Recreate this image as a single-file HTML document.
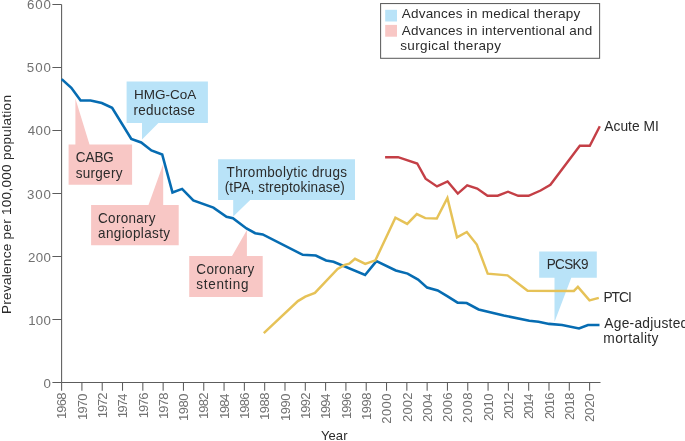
<!DOCTYPE html>
<html><head><meta charset="utf-8"><style>
html,body{margin:0;padding:0;background:#fff;}
body{width:685px;height:441px;overflow:hidden;}
svg{display:block;font-family:"Liberation Sans", sans-serif;will-change:transform;}
</style></head><body>
<svg width="685" height="441" viewBox="0 0 685 441">
<rect width="685" height="441" fill="#fff"/>
<polygon fill="#f8c7c5" points="75.4,98.6 89.5,144.4 132.1,144.4 132.1,184.8 68.6,184.8 68.6,144.4 75.4,144.4"/>
<polygon fill="#f8c7c5" points="163.2,164 163.2,204.9 178.7,204.9 178.7,245.2 91.1,245.2 91.1,204.9 148.5,204.9"/>
<polygon fill="#f8c7c5" points="246.9,230 246.9,256.1 262.7,256.1 262.7,297.1 189.2,297.1 189.2,256.1 232,256.1"/>
<polygon fill="#b9e3f8" points="126.6,81.6 207.9,81.6 207.9,123.0 158.4,123.0 142.0,139.6 142.0,123.0 126.6,123.0"/>
<polygon fill="#b9e3f8" points="218.1,159.2 355,159.2 355,200.1 250.2,200.1 233.2,216.4 233.2,200.1 218.1,200.1"/>
<polygon fill="#b9e3f8" points="539.2,251.6 596.8,251.6 596.8,277.8 571.3,277.8 554.5,322 554.5,277.8 539.2,277.8"/>
<path d="M61.6,4.5 V382.45 M61.6,382.45 H600.5" stroke="#5c5c5c" stroke-width="1.05" fill="none"/>
<path d="M52.4,382.45 H61.6 M52.4,319.46 H61.6 M52.4,256.47 H61.6 M52.4,193.48 H61.6 M52.4,130.49 H61.6 M52.4,67.50 H61.6 M52.4,4.51 H61.6 M61.60,382.45 V390.7 M81.91,382.45 V390.7 M102.22,382.45 V390.7 M122.52,382.45 V390.7 M142.83,382.45 V390.7 M163.14,382.45 V390.7 M183.45,382.45 V390.7 M203.76,382.45 V390.7 M224.06,382.45 V390.7 M244.37,382.45 V390.7 M264.68,382.45 V390.7 M284.99,382.45 V390.7 M305.30,382.45 V390.7 M325.60,382.45 V390.7 M345.91,382.45 V390.7 M366.22,382.45 V390.7 M386.53,382.45 V390.7 M406.84,382.45 V390.7 M427.14,382.45 V390.7 M447.45,382.45 V390.7 M467.76,382.45 V390.7 M488.07,382.45 V390.7 M508.38,382.45 V390.7 M528.68,382.45 V390.7 M548.99,382.45 V390.7 M569.30,382.45 V390.7 M589.61,382.45 V390.7" stroke="#5c5c5c" stroke-width="1.05" fill="none"/>
<polyline fill="none" stroke="#066cb2" stroke-width="2.6" stroke-linejoin="miter" stroke-miterlimit="4" points="61.7,79.1 71.3,87.8 80.6,100.5 90.6,100.5 101.8,103.0 112.1,107.7 131.3,138.9 141.2,142.4 151.4,150.4 162.2,154.5 172.5,192.5 182.1,188.9 193.3,200.5 213.4,207.6 226.5,216.8 232.9,218.3 246.5,228.5 255.2,233.2 262.7,234.4 302.8,254.8 315.8,255.5 326.1,260.5 333.5,261.8 365.1,275.0 376.4,261.2 395.8,270.5 407.6,273.6 418.1,279.6 427.1,287.6 437.7,290.5 447.6,296.3 457.6,302.6 466.7,303.0 478.6,309.5 503.7,315.4 529.3,320.8 538.5,321.7 549.1,323.9 562.1,325.0 579.0,328.4 588.0,325.0 599.5,325.0"/>
<polyline fill="none" stroke="#c43f46" stroke-width="2.4" stroke-linejoin="miter" stroke-miterlimit="4" points="385.1,157.2 398.1,157.2 417.2,163.5 425.6,178.7 437.0,186.4 447.6,181.4 457.8,193.6 467.2,185.4 477.2,188.5 487.5,195.7 497.7,195.7 508.0,191.7 518.2,195.8 528.6,195.8 540.6,190.5 550.4,184.8 579.8,145.8 589.8,145.8 599.8,126.3"/>
<polyline fill="none" stroke="#e6c257" stroke-width="2.45" stroke-linejoin="miter" stroke-miterlimit="4" points="263.8,333.1 297.9,301.1 305.3,296.6 314.9,292.9 337.6,269.0 344.7,264.9 349.3,263.6 355.0,258.8 365.2,263.9 375.4,260.3 395.4,217.7 407.2,223.9 416.8,214.1 425.3,218.1 436.8,218.5 447.4,198.0 457.0,237.3 466.8,232.0 476.8,244.6 487.7,273.7 507.5,275.4 527.6,290.7 573.9,290.9 577.9,286.9 589.5,300.4 598.8,297.9"/>
<text x="50.90" y="387.91" text-anchor="end" fill="#717171" font-size="13.3">0</text>
<text x="50.90" y="324.80" text-anchor="end" fill="#717171" font-size="13.3" textLength="22.69" lengthAdjust="spacing">100</text>
<text x="50.90" y="261.69" text-anchor="end" fill="#717171" font-size="13.3" textLength="22.99" lengthAdjust="spacing">200</text>
<text x="50.90" y="198.58" text-anchor="end" fill="#717171" font-size="13.3" textLength="23.99" lengthAdjust="spacing">300</text>
<text x="50.90" y="135.47" text-anchor="end" fill="#717171" font-size="13.3" textLength="23.19" lengthAdjust="spacing">400</text>
<text x="50.90" y="72.36" text-anchor="end" fill="#717171" font-size="13.3" textLength="24.09" lengthAdjust="spacing">500</text>
<text x="50.90" y="9.25" text-anchor="end" fill="#717171" font-size="13.3" textLength="23.89" lengthAdjust="spacing">600</text>
<text transform="translate(66.30,392.50) rotate(-90)" text-anchor="end" fill="#717171" font-size="13.0" textLength="26.62" lengthAdjust="spacing">1968</text>
<text transform="translate(86.61,393.50) rotate(-90)" text-anchor="end" fill="#717171" font-size="13.0" textLength="26.52" lengthAdjust="spacing">1970</text>
<text transform="translate(106.92,392.50) rotate(-90)" text-anchor="end" fill="#717171" font-size="13.0" textLength="25.72" lengthAdjust="spacing">1972</text>
<text transform="translate(127.22,393.50) rotate(-90)" text-anchor="end" fill="#717171" font-size="13.0" textLength="24.72" lengthAdjust="spacing">1974</text>
<text transform="translate(147.53,392.50) rotate(-90)" text-anchor="end" fill="#717171" font-size="13.0" textLength="25.72" lengthAdjust="spacing">1976</text>
<text transform="translate(167.84,392.50) rotate(-90)" text-anchor="end" fill="#717171" font-size="13.0" textLength="26.62" lengthAdjust="spacing">1978</text>
<text transform="translate(188.15,393.50) rotate(-90)" text-anchor="end" fill="#717171" font-size="13.0" textLength="27.42" lengthAdjust="spacing">1980</text>
<text transform="translate(208.46,392.50) rotate(-90)" text-anchor="end" fill="#717171" font-size="13.0" textLength="26.62" lengthAdjust="spacing">1982</text>
<text transform="translate(228.76,393.50) rotate(-90)" text-anchor="end" fill="#717171" font-size="13.0" textLength="25.62" lengthAdjust="spacing">1984</text>
<text transform="translate(249.07,392.50) rotate(-90)" text-anchor="end" fill="#717171" font-size="13.0" textLength="26.62" lengthAdjust="spacing">1986</text>
<text transform="translate(269.38,392.50) rotate(-90)" text-anchor="end" fill="#717171" font-size="13.0" textLength="27.52" lengthAdjust="spacing">1988</text>
<text transform="translate(289.69,393.50) rotate(-90)" text-anchor="end" fill="#717171" font-size="13.0" textLength="27.42" lengthAdjust="spacing">1990</text>
<text transform="translate(310.00,392.50) rotate(-90)" text-anchor="end" fill="#717171" font-size="13.0" textLength="26.62" lengthAdjust="spacing">1992</text>
<text transform="translate(330.30,393.50) rotate(-90)" text-anchor="end" fill="#717171" font-size="13.0" textLength="25.62" lengthAdjust="spacing">1994</text>
<text transform="translate(350.61,392.50) rotate(-90)" text-anchor="end" fill="#717171" font-size="13.0" textLength="26.62" lengthAdjust="spacing">1996</text>
<text transform="translate(370.92,392.50) rotate(-90)" text-anchor="end" fill="#717171" font-size="13.0" textLength="27.52" lengthAdjust="spacing">1998</text>
<text transform="translate(391.23,393.50) rotate(-90)" text-anchor="end" fill="#717171" font-size="13.0" textLength="30.32" lengthAdjust="spacing">2000</text>
<text transform="translate(411.54,392.50) rotate(-90)" text-anchor="end" fill="#717171" font-size="13.0" textLength="29.52" lengthAdjust="spacing">2002</text>
<text transform="translate(431.84,393.50) rotate(-90)" text-anchor="end" fill="#717171" font-size="13.0" textLength="28.52" lengthAdjust="spacing">2004</text>
<text transform="translate(452.15,392.50) rotate(-90)" text-anchor="end" fill="#717171" font-size="13.0" textLength="29.52" lengthAdjust="spacing">2006</text>
<text transform="translate(472.46,392.50) rotate(-90)" text-anchor="end" fill="#717171" font-size="13.0" textLength="30.42" lengthAdjust="spacing">2008</text>
<text transform="translate(492.77,393.50) rotate(-90)" text-anchor="end" fill="#717171" font-size="13.0" textLength="27.42" lengthAdjust="spacing">2010</text>
<text transform="translate(513.08,392.50) rotate(-90)" text-anchor="end" fill="#717171" font-size="13.0" textLength="26.62" lengthAdjust="spacing">2012</text>
<text transform="translate(533.38,393.50) rotate(-90)" text-anchor="end" fill="#717171" font-size="13.0" textLength="25.62" lengthAdjust="spacing">2014</text>
<text transform="translate(553.69,392.50) rotate(-90)" text-anchor="end" fill="#717171" font-size="13.0" textLength="26.62" lengthAdjust="spacing">2016</text>
<text transform="translate(574.00,392.50) rotate(-90)" text-anchor="end" fill="#717171" font-size="13.0" textLength="27.52" lengthAdjust="spacing">2018</text>
<text transform="translate(594.31,393.50) rotate(-90)" text-anchor="end" fill="#717171" font-size="13.0" textLength="28.52" lengthAdjust="spacing">2020</text>
<text transform="translate(134.0,99.30) scale(1,1.0)" font-size="13.5" fill="#2b2b2b" textLength="62.17" lengthAdjust="spacing">HMG-CoA</text>
<text transform="translate(133.4,114.60) scale(1,1.03)" font-size="13.5" fill="#2b2b2b" textLength="61.7" lengthAdjust="spacing">reductase</text>
<text transform="translate(75.8,162.00) scale(1,1.06)" font-size="13.5" fill="#2b2b2b" textLength="38.07" lengthAdjust="spacing">CABG</text>
<text transform="translate(75.8,177.50) scale(1,1.06)" font-size="13.5" fill="#2b2b2b" textLength="46.62" lengthAdjust="spacing">surgery</text>
<text transform="translate(98.1,222.90) scale(1,1.06)" font-size="13.5" fill="#2b2b2b" textLength="57.53" lengthAdjust="spacing">Coronary</text>
<text transform="translate(98.1,237.90) scale(1,1.06)" font-size="13.5" fill="#2b2b2b" textLength="71.91" lengthAdjust="spacing">angioplasty</text>
<text transform="translate(226.6,176.80) scale(1,1.06)" font-size="13.5" fill="#2b2b2b" textLength="120.4" lengthAdjust="spacing">Thrombolytic drugs</text>
<text transform="translate(224.7,192.30) scale(1,1.06)" font-size="13.5" fill="#2b2b2b" textLength="120.15" lengthAdjust="spacing">(tPA, streptokinase)</text>
<text transform="translate(196.3,274.00) scale(1,1.06)" font-size="13.5" fill="#2b2b2b" textLength="58.03" lengthAdjust="spacing">Coronary</text>
<text transform="translate(196.3,289.30) scale(1,1.06)" font-size="13.5" fill="#2b2b2b" textLength="52.2" lengthAdjust="spacing">stenting</text>
<text transform="translate(546.7,269.00) scale(1,1.06)" font-size="13.5" fill="#2b2b2b" textLength="41.78" lengthAdjust="spacing">PCSK9</text>
<text transform="translate(604.3,130.80) scale(1,1.06)" font-size="13.8" fill="#2b2b2b" textLength="54.45" lengthAdjust="spacing">Acute MI</text>
<text transform="translate(603.4,301.60) scale(1,1.06)" font-size="13.8" fill="#2b2b2b" textLength="28.44" lengthAdjust="spacing">PTCI</text>
<text transform="translate(604.3,327.90) scale(1,1.06)" font-size="13.8" fill="#2b2b2b" textLength="84.01" lengthAdjust="spacing">Age-adjusted</text>
<text transform="translate(603.3,342.70) scale(1,1.06)" font-size="13.8" fill="#2b2b2b" textLength="55.14" lengthAdjust="spacing">mortality</text>
<text transform="translate(401.7,18.10) scale(1,1.0)" font-size="13.5" fill="#2b2b2b" textLength="178.49" lengthAdjust="spacing">Advances in medical therapy</text>
<text transform="translate(401.7,34.50) scale(1,1.0)" font-size="13.5" fill="#2b2b2b" textLength="190.57" lengthAdjust="spacing">Advances in interventional and</text>
<text transform="translate(400.2,50.20) scale(1,1.0)" font-size="13.5" fill="#2b2b2b" textLength="100.81" lengthAdjust="spacing">surgical therapy</text>
<text transform="translate(321.0,440.00) scale(1,1.0)" font-size="13.0" fill="#2b2b2b" textLength="26.48" lengthAdjust="spacing">Year</text>
<rect x="380.6" y="3.55" width="219" height="54.75" fill="none" stroke="#5e5e5e" stroke-width="1.05"/>
<rect x="385.2" y="9.8" width="11.8" height="11.7" fill="#b9e3f8"/>
<rect x="385.2" y="24.9" width="11.8" height="11.8" fill="#f8c7c5"/>
<text transform="translate(10.80,314.00) rotate(-90)" font-size="13.6" fill="#2b2b2b" textLength="218.97" lengthAdjust="spacing">Prevalence per 100,000 population</text>
</svg>
</body></html>
